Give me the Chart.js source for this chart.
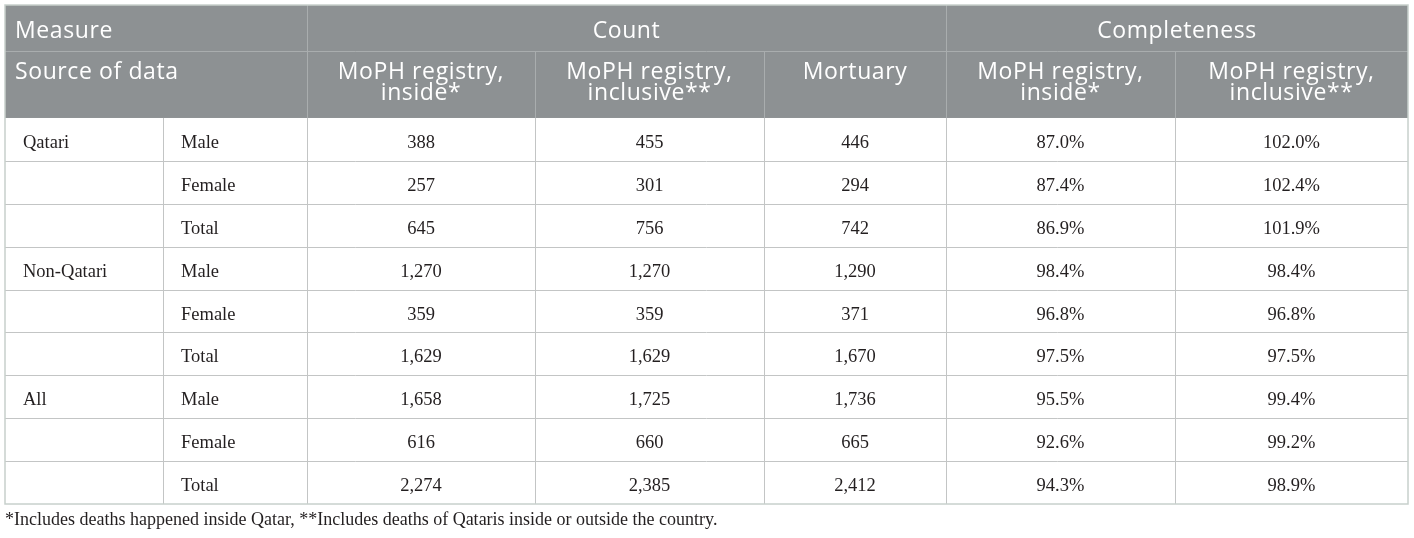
<!DOCTYPE html>
<html lang="en">
<head>
  <meta charset="UTF-8" />
  <title>Deaths registry completeness</title>
  <script src="https://cdn.jsdelivr.net/npm/chart.js"></script>
  <style>
    html, body { margin: 0; padding: 0; background: #fff; }
    #wrap { position: relative; width: 1414px; height: 538px; }
  </style>
</head>
<body>
  <div id="wrap"><canvas id="tableChart"></canvas></div>

  <script>
    // table data
    const groups = ['Qatari', 'Non-Qatari', 'All'];
    const sexes = ['Male', 'Female', 'Total'];
    const registryInside = [388, 257, 645, 1270, 359, 1629, 1658, 616, 2274];
    const registryInclusive = [455, 301, 756, 1270, 359, 1629, 1725, 660, 2385];
    const mortuary = [446, 294, 742, 1290, 371, 1670, 1736, 665, 2412];
    const completenessInside = [87.0, 87.4, 86.9, 98.4, 96.8, 97.5, 95.5, 92.6, 94.3];
    const completenessInclusive = [102.0, 102.4, 101.9, 98.4, 96.8, 97.5, 99.4, 99.2, 98.9];
    const columnHeaders = [
      ['MoPH registry,', 'inside*'],
      ['MoPH registry,', 'inclusive**'],
      ['Mortuary'],
      ['MoPH registry,', 'inside*'],
      ['MoPH registry,', 'inclusive**']
    ];
    const footnote = '*Includes deaths happened inside Qatar, **Includes deaths of Qataris inside or outside the country.';

    // layout (scale units)
    const colWidths = [158, 144, 228, 229, 182, 229, 233];
    const colEdges = [0];
    colWidths.forEach(w => colEdges.push(colEdges[colEdges.length - 1] + w));
    const head1 = 46, head2 = 67, rowH = 42.9;
    const rowEdge = i => head1 + head2 + i * rowH;
    const totalH = rowEdge(sexes.length * groups.length);

    const fmtCount = v => v.toLocaleString('en-US');
    const fmtPct = v => v.toFixed(1) + '%';

    const tablePlugin = {
      id: 'tablePlugin',
      afterDraw(chart) {
        const ctx = chart.ctx;
        const x = chart.scales.x, y = chart.scales.y;
        const px = v => x.getPixelForValue(v);
        const py = v => y.getPixelForValue(v);
        const L = px(0), R = px(colEdges[7]), T = py(0), B = py(totalH);
        const H = py(head1 + head2);

        ctx.save();
        // header background
        ctx.fillStyle = '#8d9193';
        ctx.fillRect(L, T, R - L, H - T);

        // header lines
        ctx.strokeStyle = '#a9adae';
        ctx.lineWidth = 1;
        const hline = (x1, x2, yy) => { ctx.beginPath(); ctx.moveTo(x1, yy); ctx.lineTo(x2, yy); ctx.stroke(); };
        const vline = (xx, y1, y2) => { ctx.beginPath(); ctx.moveTo(xx, y1); ctx.lineTo(xx, y2); ctx.stroke(); };
        hline(L, R, Math.round(py(head1)) + 0.5);
        [2, 5].forEach(c => vline(Math.round(px(colEdges[c])) + 0.5, T, H));
        [3, 4, 6].forEach(c => vline(Math.round(px(colEdges[c])) + 0.5, py(head1), H));

        // header text
        ctx.fillStyle = '#ffffff';
        ctx.font = '23px "Open Sans", sans-serif';
        ctx.letterSpacing = '0.6px';
        ctx.textBaseline = 'alphabetic';
        ctx.textAlign = 'left';
        const base1 = py(0) + 33;
        const line1 = py(head1) + 28, line2 = py(head1) + 49;
        ctx.fillText('Measure', px(0) + 10, base1);
        ctx.fillText('Source of data', px(0) + 10, line1);
        ctx.textAlign = 'center';
        ctx.fillText('Count', (px(colEdges[2]) + px(colEdges[5])) / 2, base1);
        ctx.fillText('Completeness', (px(colEdges[5]) + px(colEdges[7])) / 2, base1);
        columnHeaders.forEach((lines, i) => {
          const cx = (px(colEdges[i + 2]) + px(colEdges[i + 3])) / 2;
          lines.forEach((t, k) => ctx.fillText(t, cx, k === 0 ? line1 : line2));
        });
        ctx.letterSpacing = '0px';

        // body grid
        ctx.strokeStyle = '#c3c5c5';
        const nRows = groups.length * sexes.length;
        for (let r = 1; r < nRows; r++) {
          hline(L, R, Math.round(py(rowEdge(r))) + 0.5);
        }
        for (let c = 1; c < 7; c++) vline(Math.round(px(colEdges[c])) + 0.5, H, B);

        // body text
        ctx.fillStyle = '#231f20';
        ctx.font = '18.5px "Liberation Serif", serif';
        const cols = [registryInside, registryInclusive, mortuary, completenessInside, completenessInclusive];
        for (let r = 0; r < nRows; r++) {
          const by = py(rowEdge(r)) + 30;
          ctx.textAlign = 'left';
          if (r % sexes.length === 0) ctx.fillText(groups[r / sexes.length], px(0) + 18, by);
          ctx.fillText(sexes[r % sexes.length], px(colEdges[1]) + 18, by);
          ctx.textAlign = 'center';
          cols.forEach((arr, i) => {
            const cx = (px(colEdges[i + 2]) + px(colEdges[i + 3])) / 2;
            ctx.fillText(i < 3 ? fmtCount(arr[r]) : fmtPct(arr[r]), cx, by);
          });
        }

        // outer border
        ctx.strokeStyle = '#c7d0cc';
        ctx.lineWidth = 1.5;
        ctx.strokeRect(L, T, R - L, B - T);

        // footnote
        ctx.fillStyle = '#231f20';
        ctx.font = '18px "Liberation Serif", serif';
        ctx.textAlign = 'left';
        ctx.fillText(footnote, px(0), B + 21);
        ctx.restore();
      }
    };

    const ctx = document.getElementById('tableChart').getContext('2d');
    const tableChart = new Chart(ctx, {
      type: 'scatter',
      data: { datasets: [{ data: [], pointRadius: 0 }] },
      options: {
        responsive: true,
        maintainAspectRatio: false,
        animation: false,
        layout: { padding: { left: 5, right: 6, top: 5, bottom: 34 } },
        plugins: { legend: { display: false }, tooltip: { enabled: false } },
        scales: {
          x: { type: 'linear', min: 0, max: colEdges[7], display: false },
          y: { type: 'linear', min: 0, max: totalH, reverse: true, display: false }
        }
      },
      plugins: [tablePlugin]
    });
  </script>
</body>
</html>
